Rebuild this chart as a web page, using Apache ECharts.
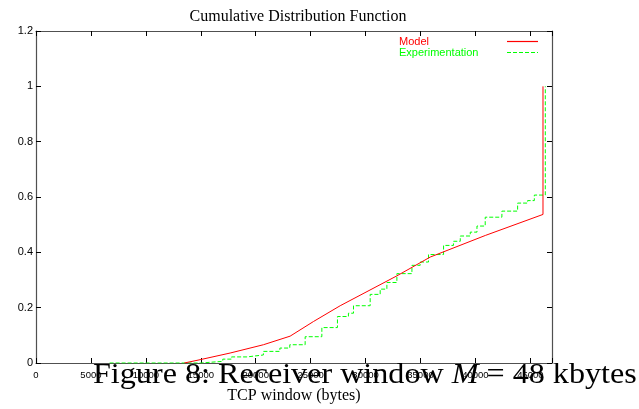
<!DOCTYPE html>
<html>
<head>
<meta charset="utf-8">
<script src="https://cdn.jsdelivr.net/npm/echarts@6/dist/echarts.min.js"></script>
<style>
html,body{margin:0;padding:0;background:#fff;}
#chart{width:639px;height:409px;}
</style>
</head>
<body>
<div id="chart"></div>
<script>
// ---- data ----
var titleText = 'Cumulative Distribution Function';
var xAxisName = 'TCP window (bytes)';
var captionParts = ['Figure 8: Receiver window ', 'M', ' = 48 kbytes'];
var seriesNames = ['Model', 'Experimentation'];
var seriesColors = ['#ff0000', '#00ff00'];

// Model (solid red line)
var modelX = [13500, 14940, 17670, 20700, 23130, 25260, 27690, 32850, 35890, 40900, 46150, 46150];
var modelY = [0, 0.012, 0.036, 0.066, 0.097, 0.150, 0.207, 0.315, 0.383, 0.461, 0.537, 1.0];

// Experimentation (dashed green staircase: level holds from x onward)
var expX = [6700, 15000, 17000, 17800, 19200, 20700, 22200, 23100, 24500, 26020, 27440, 28440, 28900, 30420, 31330, 31940, 32850, 34220, 34970, 35730, 37100, 38000, 38620, 39530, 40140, 40890, 42410, 43840, 44750, 45360, 46360];
var expY = [0, 0.006, 0.014, 0.022, 0.029, 0.042, 0.054, 0.066, 0.095, 0.128, 0.168, 0.180, 0.207, 0.248, 0.267, 0.291, 0.323, 0.353, 0.365, 0.392, 0.425, 0.440, 0.459, 0.473, 0.495, 0.527, 0.549, 0.578, 0.587, 0.607, 1.0];

var xMin = 0, xMax = 46970, xStep = 5000;
var yMin = 0, yMax = 1.2, yStep = 0.2;

function zip(a, b) { return a.map(function (v, i) { return [v, b[i]]; }); }

var chart = echarts.init(document.getElementById('chart'), null, {renderer: 'canvas'});
var frame = {show: true, onZero: false, lineStyle: {color: '#505050', width: 1.2}};
var ticksIn = {show: true, inside: true, length: 5, lineStyle: {color: '#000', width: 1}};
var serif = '"Liberation Serif", "Times New Roman", serif';
var sans = '"Liberation Sans", Arial, sans-serif';
var dash = [4, 2];

// legend drawn as gnuplot-style key: label on the left, line sample on the right
var keyItems = [];
seriesNames.forEach(function (name, i) {
  var y = 41.5 + i * 11;
  keyItems.push({
    type: 'text', left: 399, top: y - 5, z: 50,
    style: {text: name, fontFamily: sans, fontSize: 11, fill: seriesColors[i]}
  });
  keyItems.push({
    type: 'line', z: 50,
    shape: {x1: 507, y1: y, x2: 538, y2: y},
    style: {stroke: seriesColors[i], lineWidth: 1.2, lineDash: i === 1 ? dash : null}
  });
});

chart.setOption({
  animation: false,
  backgroundColor: '#fff',
  title: {
    text: titleText, left: 293, top: 4, textAlign: 'center',
    textStyle: {fontFamily: serif, fontSize: 16, fontWeight: 'normal', color: '#000'}
  },
  grid: {left: 36, right: 87, top: 31, bottom: 44, containLabel: false},
  xAxis: [{
    type: 'value', min: xMin, max: xMax, interval: xStep,
    position: 'bottom',
    name: xAxisName, nameLocation: 'middle', nameGap: 25,
    nameTextStyle: {fontFamily: serif, fontSize: 16, color: '#000'},
    axisLine: frame, axisTick: ticksIn, splitLine: {show: false},
    axisLabel: {fontFamily: sans, fontSize: 9.5, color: '#000', margin: 7,
      formatter: function (v) { return v % xStep === 0 ? String(v) : ''; }}
  }, {
    type: 'value', min: xMin, max: xMax, interval: xStep,
    position: 'top',
    axisLine: frame, axisTick: ticksIn, splitLine: {show: false},
    axisLabel: {show: false}
  }],
  yAxis: [{
    type: 'value', min: yMin, max: yMax, interval: yStep,
    position: 'left',
    axisLine: frame, axisTick: ticksIn, splitLine: {show: false},
    axisLabel: {fontFamily: sans, fontSize: 11, color: '#000', margin: 3,
      formatter: function (v) { return String(Math.round(v * 10) / 10); }}
  }, {
    type: 'value', min: yMin, max: yMax, interval: yStep,
    position: 'right',
    axisLine: frame, axisTick: ticksIn, splitLine: {show: false},
    axisLabel: {show: false}
  }],
  series: [{
    name: seriesNames[0], type: 'line', symbol: 'none', z: 3,
    data: zip(modelX, modelY),
    lineStyle: {color: seriesColors[0], width: 1},
    itemStyle: {color: seriesColors[0]}
  }, {
    name: seriesNames[1], type: 'line', symbol: 'none', step: 'end', z: 2,
    data: zip(expX, expY),
    lineStyle: {color: seriesColors[1], width: 1, type: dash},
    itemStyle: {color: seriesColors[1]}
  }],
  graphic: keyItems.concat([{
    type: 'text', left: 93, top: 361, z: 100, scaleX: 1.108, originX: 0,
    style: {
      text: '{a|' + captionParts[0] + '}{m|' + captionParts[1] + '}{a|' + captionParts[2] + '}',
      rich: {
        a: {fontFamily: serif, fontSize: 29, fill: '#000'},
        m: {fontFamily: serif, fontSize: 29, fontStyle: 'italic', fill: '#000'}
      }
    }
  }])
});
</script>
</body>
</html>
